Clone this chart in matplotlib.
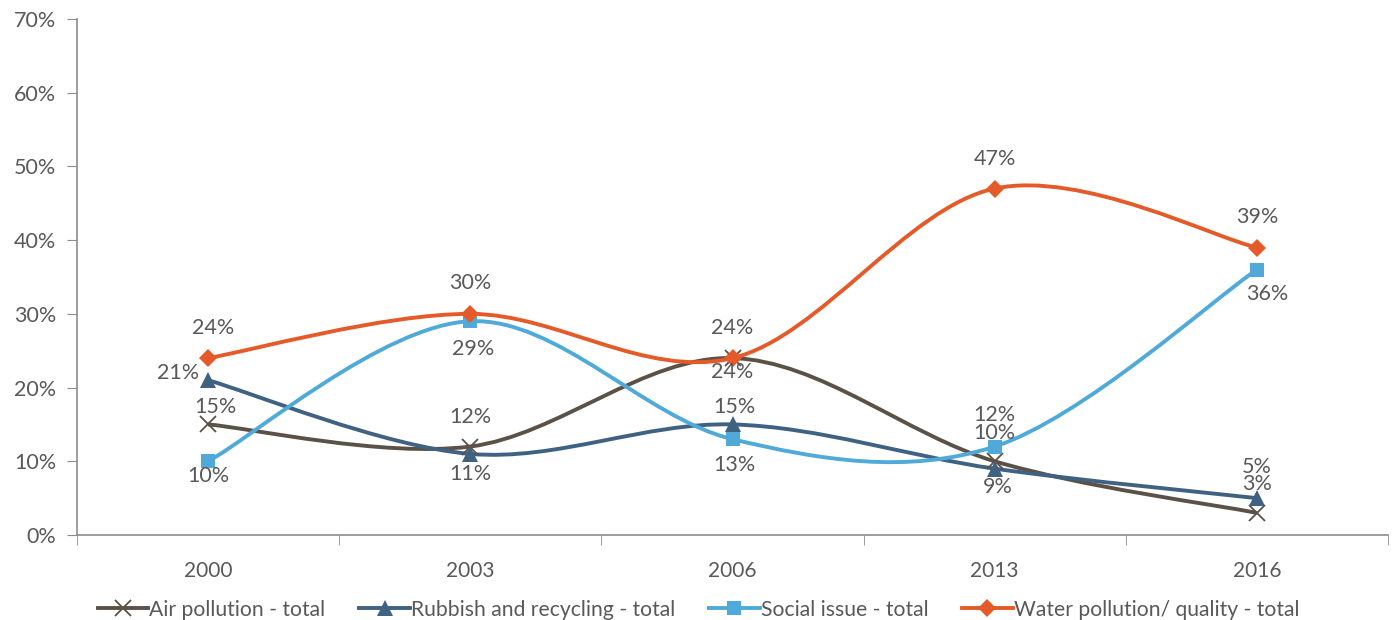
import numpy as np
import matplotlib
matplotlib.use("Agg")
from matplotlib import pyplot as plt
from matplotlib.path import Path
from matplotlib.patches import PathPatch

plt.rcParams['font.family'] = ['Lato', 'DejaVu Sans']

years = ['2000', '2003', '2006', '2013', '2016']
air = [15, 12, 24, 10, 3]
rubbish = [21, 11, 15, 9, 5]
social = [10, 29, 13, 12, 36]
water = [24, 30, 24, 47, 39]

names = ['Air pollution - total', 'Rubbish and recycling - total',
         'Social issue - total', 'Water pollution/ quality - total']
colors = ['#5b5147', '#3f6283', '#4faad9', '#e55a29']
markers = ['x', '^', 's', 'D']
msizes = [11, 11, 10, 9]

# label offsets in pixels (dx, dy) from each point, dy positive = up
offsets = [
    [(7, 17), (0, 30), (0, -14), (0, 28), (0, 29)],
    [(-30, 7), (0, -20), (2, 17), (3, -18), (0, 31)],
    [(0, -15), (3, -28), (2, -26), (0, 32), (10, -24)],
    [(5, 30), (0, 31), (0, 30), (0, 30), (0, 31)],
]

grey = '#595959'
axis_col = '#8c8c8c'


def smooth_path(xs, ys):
    # Excel-like smoothed line: Catmull-Rom converted to cubic beziers
    pts = np.column_stack([xs, ys]).astype(float)
    n = len(pts)
    verts = [pts[0]]
    codes = [Path.MOVETO]
    for i in range(n - 1):
        p0 = pts[i - 1] if i > 0 else pts[i]
        p1 = pts[i]
        p2 = pts[i + 1]
        p3 = pts[i + 2] if i + 2 < n else pts[i + 1]
        c1 = p1 + (p2 - p0) / 6
        c2 = p2 - (p3 - p1) / 6
        verts += [c1, c2, p2]
        codes += [Path.CURVE4] * 3
    return Path(verts, codes)


fig = plt.figure(figsize=(13.97, 6.2), dpi=100)
ax = fig.add_axes([77 / 1397, 85 / 620, 1311 / 1397, 516 / 620])

x = np.arange(len(years))
all_series = [air, rubbish, social, water]

for vals, c, m, ms, name, offs in zip(all_series, colors, markers, msizes, names, offsets):
    ax.add_patch(PathPatch(smooth_path(x, vals), facecolor='none', edgecolor=c,
                           lw=2.8, zorder=2))
    ax.plot(x, vals, linestyle='none', marker=m, color=c, ms=ms,
            mew=1.3 if m == 'x' else 0, zorder=3)
    for xi, v, (dx, dy) in zip(x, vals, offs):
        ax.annotate(f'{v}%', (xi, v), xytext=(dx * 0.72, dy * 0.72),
                    textcoords='offset points', ha='center', va='center',
                    fontsize=15.5, color=grey, zorder=4)

ax.set_xlim(-0.5, 4.5)
ax.set_ylim(0, 70)
ax.set_xticks(x)
ax.set_xticklabels(years)
ax.set_xticks(np.arange(-0.5, 5, 1), minor=True)
ax.tick_params(axis='x', which='major', length=0, pad=19, labelsize=15, labelcolor=grey)
ax.tick_params(axis='x', which='minor', length=7, color=axis_col, direction='out')
ax.set_yticks(np.arange(0, 71, 10))
ax.set_yticklabels([f'{t}%' for t in range(0, 71, 10)])
ax.tick_params(axis='y', length=7, color=axis_col, labelsize=15.5, labelcolor=grey, pad=8)

for s in ['top', 'right']:
    ax.spines[s].set_visible(False)
for s in ['left', 'bottom']:
    ax.spines[s].set_color(axis_col)
    ax.spines[s].set_linewidth(1.2)

handles = [plt.Line2D([], [], color=c, marker=m, ms=ms, lw=2.8,
                      mew=1.3 if m == 'x' else 0)
           for c, m, ms in zip(colors, markers, msizes)]
fig.legend(handles, names, loc='lower center', bbox_to_anchor=(0.5, -0.03),
           ncol=4, frameon=False, fontsize=15.2, labelcolor=grey,
           handlelength=2.4, handletextpad=0.05, columnspacing=1.6)

fig.savefig('out.png', dpi=100)
